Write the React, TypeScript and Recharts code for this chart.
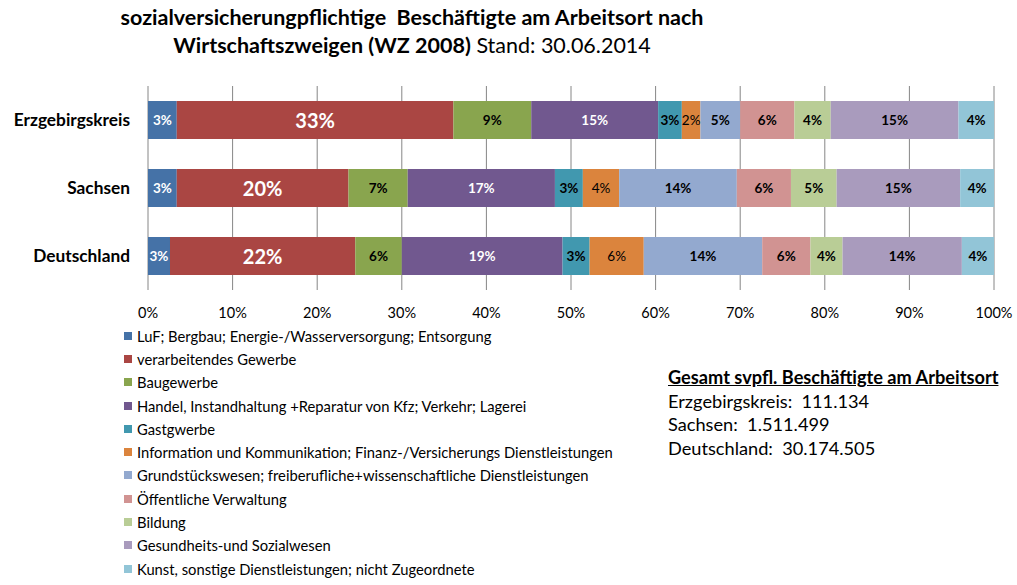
import React from 'react'
import { BarChart, Bar, XAxis, YAxis, CartesianGrid, LabelList } from 'recharts'

const regions = ['Erzgebirgskreis', 'Sachsen', 'Deutschland']

const sectors = [
  'LuF; Bergbau; Energie-/Wasserversorgung; Entsorgung',
  'verarbeitendes Gewerbe',
  'Baugewerbe',
  'Handel, Instandhaltung +Reparatur von Kfz; Verkehr; Lagerei',
  'Gastgwerbe',
  'Information und Kommunikation; Finanz-/Versicherungs Dienstleistungen',
  'Grundstückswesen; freiberufliche+wissenschaftliche Dienstleistungen',
  'Öffentliche Verwaltung',
  'Bildung',
  'Gesundheits-und Sozialwesen',
  'Kunst, sonstige Dienstleistungen; nicht Zugeordnete',
]

const colors = [
  '#4572A7', '#AA4643', '#89A54E', '#71588F', '#4198AF', '#DB843D',
  '#93A9CF', '#D19392', '#B9CD96', '#A99BBD', '#92C5D7',
]

// share in % per region (Erzgebirgskreis, Sachsen, Deutschland)
const luf = [3.4, 3.4, 2.6]
const verarbeitend = [32.7, 20.3, 21.9]
const bau = [9.2, 7.0, 5.5]
const handel = [15.0, 17.4, 19.0]
const gast = [2.8, 3.3, 3.2]
const info = [2.2, 4.3, 6.4]
const grund = [4.7, 13.9, 14.0]
const oeff = [6.4, 6.4, 5.7]
const bildung = [4.3, 5.4, 3.8]
const gesund = [15.1, 14.6, 14.1]
const kunst = [4.2, 4.0, 3.8]

const series = [luf, verarbeitend, bau, handel, gast, info, grund, oeff, bildung, gesund, kunst]

const ticks = [0, 10, 20, 30, 40, 50, 60, 70, 80, 90, 100]

const totalsTitle = 'Gesamt svpfl. Beschäftigte am Arbeitsort'
const totals = ['111.134', '1.511.499', '30.174.505']

const data = regions.map((name, i) => {
  const row: any = { name }
  series.forEach((s, k) => { row['s' + k] = s[i] })
  return row
})

const FONT = 'Lato, "Open Sans", sans-serif'

const labelStyle = (k: number) => {
  if (k === 1) return { fill: '#fff', fontWeight: 700, fontSize: 20 }
  if (k === 0 || k === 3) return { fill: '#fff', fontWeight: 700, fontSize: 13.5 }
  if (k === 5) return { fill: '#000', fontWeight: 400, fontSize: 13.5 }
  return { fill: '#000', fontWeight: 700, fontSize: 13.5 }
}

const makeLabel = (k: number) => (props: any) => {
  const { x, y, width, height, value } = props
  const st = labelStyle(k)
  return (
    <text
      x={x + width / 2}
      y={y + height / 2}
      textAnchor="middle"
      dominantBaseline="central"
      fontFamily={FONT}
      {...st}
    >
      {`${Math.round(value)}%`}
    </text>
  )
}

export default function App() {
  return (
    <div style={{ position: 'absolute', left: 0, top: 0, width: 1017, height: 585, background: '#fff', fontFamily: FONT }}>
      <div style={{ position: 'absolute', left: 0, top: 3, width: 824, textAlign: 'center', fontSize: 21.5, lineHeight: '28px', color: '#000' }}>
        <div style={{ fontWeight: 700 }}>sozialversicherungpflichtige&nbsp; Beschäftigte am Arbeitsort nach</div>
        <div><b>Wirtschaftszweigen (WZ 2008)</b> Stand: 30.06.2014</div>
      </div>

      <BarChart
        width={1017}
        height={585}
        data={data}
        layout="vertical"
        margin={{ top: 86, right: 23, bottom: 265, left: 8 }}
        barSize={38}
      >
        <CartesianGrid horizontal={false} stroke="#868686" />
        <XAxis
          type="number"
          domain={[0, 100]}
          ticks={ticks}
          tickFormatter={(v) => `${v}%`}
          axisLine={false}
          tickLine={false}
          height={30}
          tick={{ fontSize: 14.5, fill: '#000', fontFamily: FONT }}
          tickMargin={12}
        />
        <YAxis
          type="category"
          dataKey="name"
          width={140}
          axisLine={false}
          tickLine={false}
          tickMargin={12}
          tick={{ fontSize: 17.3, fontWeight: 700, fill: '#000', fontFamily: FONT }}
        />
        {series.map((_, k) => (
          <Bar key={k} dataKey={'s' + k} stackId="a" fill={colors[k]} name={sectors[k]} isAnimationActive={false}>
            <LabelList dataKey={'s' + k} content={makeLabel(k)} />
          </Bar>
        ))}
      </BarChart>

      <div style={{ position: 'absolute', left: 124, top: 324, fontSize: 14.75, color: '#000' }}>
        {sectors.map((s, k) => (
          <div key={k} style={{ height: 23.3, display: 'flex', alignItems: 'center' }}>
            <span style={{ display: 'inline-block', width: 8, height: 8, background: colors[k], marginRight: 5 }} />
            <span>{s}</span>
          </div>
        ))}
      </div>

      <div style={{ position: 'absolute', left: 668, top: 366, fontSize: 18.2, lineHeight: '23.5px', color: '#000' }}>
        <div style={{ fontWeight: 700, textDecoration: 'underline' }}>{totalsTitle}</div>
        {regions.map((r, i) => (
          <div key={r}>{r}:&nbsp; {totals[i]}</div>
        ))}
      </div>
    </div>
  )
}
